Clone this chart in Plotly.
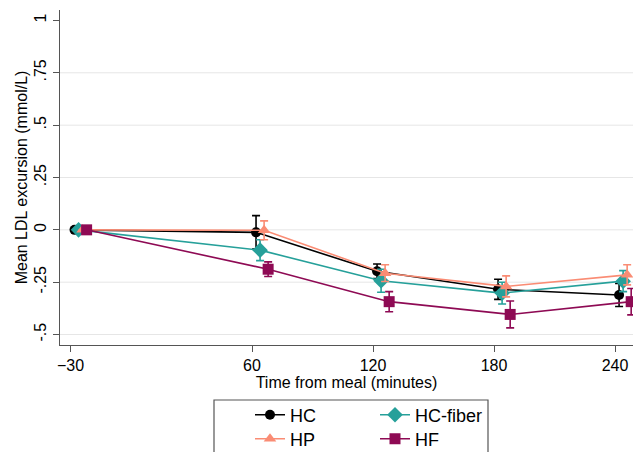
import plotly.graph_objects as go

times = [-30, 60, 120, 180, 240]
series_names = ["HC", "HC-fiber", "HP", "HF"]

hc_mean = [0, -0.012, -0.198, -0.284, -0.311]
hc_err = [0, 0.08, 0.035, 0.048, 0.055]
fiber_mean = [0, -0.097, -0.243, -0.302, -0.245]
fiber_err = [0, 0.05, 0.055, 0.052, 0.05]
hp_mean = [0, -0.002, -0.207, -0.270, -0.215]
hp_err = [0, 0.045, 0.04, 0.05, 0.048]
hf_mean = [0, -0.188, -0.343, -0.404, -0.343]
hf_err = [0, 0.035, 0.048, 0.064, 0.063]

y_ticks = [-0.5, -0.25, 0, 0.25, 0.5, 0.75, 1]
y_ticklabels = ["-.5", "-.25", "0", ".25", ".5", ".75", "1"]
x_ticks = [-30, 60, 120, 180, 240]

means = [hc_mean, fiber_mean, hp_mean, hf_mean]
errs = [hc_err, fiber_err, hp_err, hf_err]
colors = ["#000000", "#26A09A", "#FA8C74", "#8E0A54"]
symbols = ["circle", "diamond", "triangle-up", "square"]
sizes = [10, 12, 11, 11]
dodge = [2, 4, 6, 8]
legend_ids = ["legend", "legend", "legend2", "legend2"]

FONT = "Liberation Sans, Arial, sans-serif"

fig = go.Figure()
for name, m, e, c, s, sz, d, lg in zip(series_names, means, errs, colors, symbols, sizes, dodge, legend_ids):
    fig.add_trace(go.Scatter(
        x=[t + d for t in times], y=m, name=name, mode="lines+markers",
        line=dict(color=c, width=1.6),
        marker=dict(color=c, symbol=s, size=sz),
        error_y=dict(type="data", array=e, visible=True, color=c, thickness=1.6, width=4),
        legend=lg, cliponaxis=True,
    ))

# gridlines (not at top tick)
for v in y_ticks[:-1]:
    fig.add_shape(type="line", xref="paper", yref="y", x0=0, x1=1, y0=v, y1=v,
                  line=dict(color="#E6E6E6", width=1), layer="below")

# legend box
fig.add_shape(type="rect", xref="paper", yref="paper",
              x0=(214 - 60) / 573, x1=(488 - 60) / 573,
              y0=(345 - 470) / 335, y1=(345 - 400) / 335,
              line=dict(color="#555555", width=1.2), fillcolor="rgba(0,0,0,0)")

leg_common = dict(orientation="h", xanchor="left", yanchor="middle",
                  font=dict(family=FONT, size=18, color="#000000"),
                  bgcolor="rgba(0,0,0,0)", entrywidth=80, itemwidth=30)
fig.update_layout(
    width=633, height=452,
    margin=dict(l=60, r=0, t=10, b=107, autoexpand=False),
    plot_bgcolor="white", paper_bgcolor="white",
    font=dict(family=FONT, size=15, color="#000000"),
    showlegend=True,
    legend=dict(x=(250 - 60) / 573, y=(345 - 415) / 335, **leg_common),
    legend2=dict(x=(250 - 60) / 573, y=(345 - 439) / 335, **leg_common),
    xaxis=dict(range=[-35.2, 248.9], tickvals=x_ticks, ticks="outside", ticklen=6,
               tickcolor="#555555", showline=True, linecolor="#555555", linewidth=1.3,
               showgrid=False, zeroline=False, automargin=True,
               title=dict(text="Time from meal (minutes)", standoff=1, font=dict(size=16)),
               tickfont=dict(size=16)),
    yaxis=dict(range=[-0.55, 1.05], tickvals=y_ticks, ticktext=y_ticklabels,
               ticks="outside", ticklen=6, tickcolor="#555555", tickangle=-90,
               showline=True, linecolor="#555555", linewidth=1.3,
               showgrid=False, zeroline=False, automargin=True,
               title=dict(text="Mean LDL excursion (mmol/L)", standoff=0, font=dict(size=16)),
               tickfont=dict(size=16)),
)

fig.write_html(
    "out.html",
    config={"displayModeBar": False},
    post_script="document.body.style.margin='0';document.body.style.overflow='hidden';",
)
